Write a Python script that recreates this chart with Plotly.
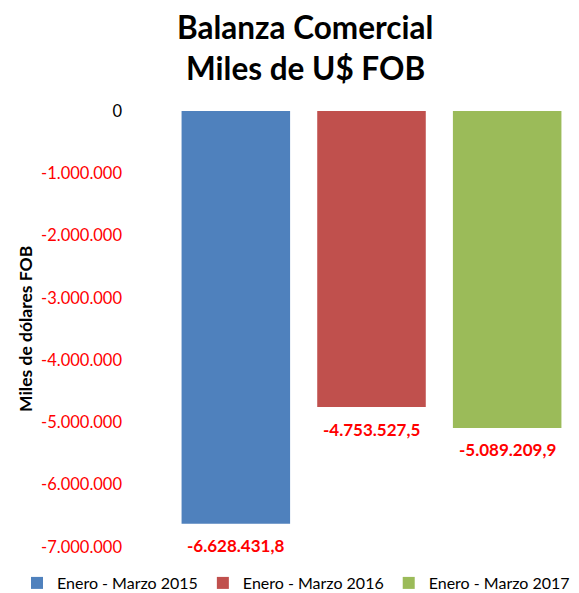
import plotly.graph_objects as go

categories = ["Enero - Marzo 2015", "Enero - Marzo 2016", "Enero - Marzo 2017"]
values = [-6628431.8, -4753527.5, -5089209.9]
labels = ["-6.628.431,8", "-4.753.527,5", "-5.089.209,9"]
colors = ["#4F81BD", "#C0504D", "#9BBB59"]
tick_vals = [0, -1000000, -2000000, -3000000, -4000000, -5000000, -6000000, -7000000]
tick_text = ["0", "-1.000.000", "-2.000.000", "-3.000.000", "-4.000.000",
             "-5.000.000", "-6.000.000", "-7.000.000"]

FONT = "Lato"
W, H = 571, 585  # page body has an 8px margin
L, R, T, B = 160, 4, 103, 46
PW, PH = W - L - R, H - T - B

def px(xs):
    return (xs - 8 - L) / PW

def py(ys):
    return 1 - (ys - 8 - T) / PH

fig = go.Figure()
for c, v, col in zip(categories, values, colors):
    fig.add_trace(go.Bar(x=[c], y=[v], name=c, marker=dict(color=col, line=dict(width=0)),
                         width=0.8, hoverinfo="y"))

for c, v, lab in zip(categories, values, labels):
    fig.add_annotation(x=c, y=v, text="<b>" + lab + "</b>", showarrow=False,
                       yanchor="middle", yshift=-22,
                       font=dict(family=FONT, size=17, color="#FF0000"))

ticktext_col = [t if t == "0" else "<span style='color:#FF0000'>" + t + "</span>" for t in tick_text]

fig.update_layout(
    width=W, height=H,
    margin=dict(l=L, r=R, t=T, b=B, autoexpand=False),
    paper_bgcolor="white", plot_bgcolor="white",
    barmode="overlay",
    font=dict(family=FONT, size=16, color="black"),
    showlegend=True,
    legend=dict(orientation="h", xref="paper", x=(9 - L) / PW, xanchor="left",
                yref="paper", y=py(583), yanchor="middle",
                font=dict(size=16, family=FONT), bgcolor="rgba(0,0,0,0)",
                itemwidth=30, traceorder="normal", tracegroupgap=0),
    xaxis=dict(showticklabels=False, showgrid=False, zeroline=False, showline=False,
               categoryorder="array", categoryarray=categories, range=[-0.5, 2.5],
               automargin=False),
    yaxis=dict(range=[-7000000, 0], tickvals=tick_vals, ticktext=ticktext_col,
               showgrid=False, zeroline=False, showline=False, ticks="",
               ticklabelstandoff=45, tickfont=dict(size=16.5, family=FONT),
               automargin=False),
)

fig.add_annotation(text="<b>Balanza Comercial</b>", xref="paper", yref="paper",
                   x=px(305), y=py(27), showarrow=False,
                   yanchor="middle", font=dict(family=FONT, size=31.5, color="black"))
fig.add_annotation(text="<b>Miles de U$ FOB</b>", xref="paper", yref="paper",
                   x=px(305), y=py(68), showarrow=False,
                   yanchor="middle", font=dict(family=FONT, size=31.5, color="black"))
fig.add_annotation(text="<b>Miles de dólares FOB</b>", xref="paper", yref="paper",
                   x=px(25), y=py(329), showarrow=False, textangle=-90,
                   xanchor="center", yanchor="middle",
                   font=dict(family=FONT, size=17.5, color="black"))

fig.write_html("out.html")
